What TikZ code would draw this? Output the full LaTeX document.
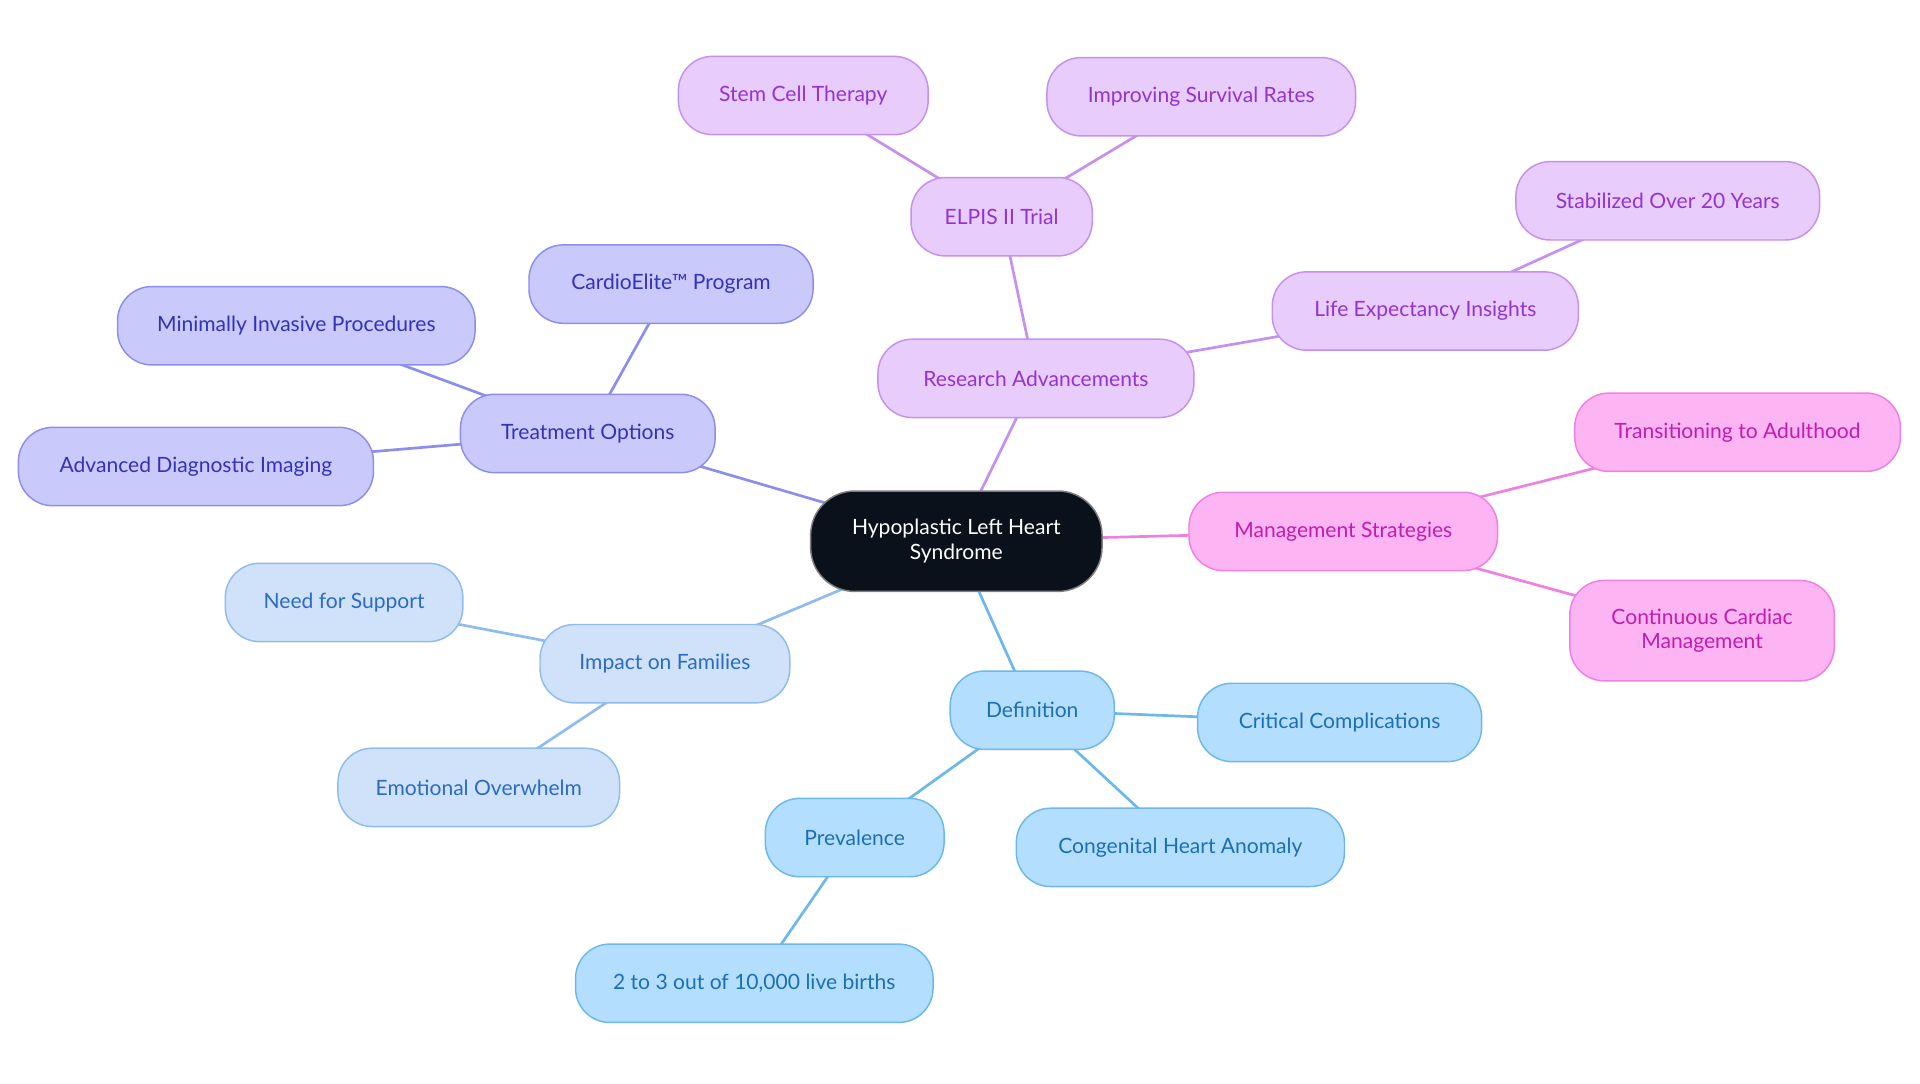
\documentclass[tikz,border=0pt]{standalone}
\usepackage{fontspec}
\setmainfont{Lato}
\usetikzlibrary{backgrounds}
\begin{document}
\begin{tikzpicture}[x=0.5pt,y=-0.5pt,
 base/.style={rounded corners=14pt,draw,line width=0.6pt,minimum height=32pt,align=center,font=\fontsize{8.6}{10}\selectfont,inner sep=0pt},
 lb/.style={base,fill=lb1,draw=lb2,text=lb3},
 sb/.style={base,fill=sb1,draw=sb2,text=sb3},
 ib/.style={base,fill=ib1,draw=ib2,text=ib3},
 pb/.style={base,fill=pb1,draw=pb2,text=pb3},
 kb/.style={base,fill=kb1,draw=kb2,text=kb3},
 e/.style={line width=1.1pt}]
\definecolor{lb1}{HTML}{CFE2FA}\definecolor{lb2}{HTML}{8FBCEE}\definecolor{lb3}{HTML}{2C6BC4}
\definecolor{sb1}{HTML}{B3DEFD}\definecolor{sb2}{HTML}{6CB8EC}\definecolor{sb3}{HTML}{1D6FB5}
\definecolor{ib1}{HTML}{C9C9FB}\definecolor{ib2}{HTML}{8D8DEB}\definecolor{ib3}{HTML}{3333B8}
\definecolor{pb1}{HTML}{E8CCFB}\definecolor{pb2}{HTML}{C690EE}\definecolor{pb3}{HTML}{9333D0}
\definecolor{kb1}{HTML}{FDB4F2}\definecolor{kb2}{HTML}{EE80E2}\definecolor{kb3}{HTML}{C21CB0}
\definecolor{rootc}{HTML}{0B111A}
\useasboundingbox (0,0) rectangle (1568,884.5);
\node[base,fill=rootc,draw=gray,text=white,minimum width=119pt,minimum height=41pt,rounded corners=18pt] (root) at (781,442) {Hypoplastic Left Heart\\Syndrome};
\node[lb,minimum width=102pt] (imp) at (543,542) {Impact on Families};
\node[lb,minimum width=97pt] (need) at (281,492) {Need for Support};
\node[lb,minimum width=115pt] (emo) at (391,643) {Emotional Overwhelm};
\node[sb,minimum width=67pt] (def) at (843,580) {Definition};
\node[sb,minimum width=116pt] (crit) at (1094,590) {Critical Complications};
\node[sb,minimum width=134pt] (cong) at (964,692) {Congenital Heart Anomaly};
\node[sb,minimum width=73pt] (prev) at (698,684) {Prevalence};
\node[sb,minimum width=146pt] (two) at (616,803) {2 to 3 out of 10,000 live births};
\node[ib,minimum width=104pt] (treat) at (480,354) {Treatment Options};
\node[ib,minimum width=116pt] (cardio) at (548,232) {CardioElite™ Program};
\node[ib,minimum width=146pt] (mini) at (242,266) {Minimally Invasive Procedures};
\node[ib,minimum width=145pt] (adv) at (160,381) {Advanced Diagnostic Imaging};
\node[pb,minimum width=129pt] (res) at (846,309) {Research Advancements};
\node[pb,minimum width=74pt] (elpis) at (818,177) {ELPIS II Trial};
\node[pb,minimum width=102pt] (stem) at (656,78) {Stem Cell Therapy};
\node[pb,minimum width=126pt] (impr) at (981,79) {Improving Survival Rates};
\node[pb,minimum width=125pt] (life) at (1164,254) {Life Expectancy Insights};
\node[pb,minimum width=124pt] (stab) at (1362,164) {Stabilized Over 20 Years};
\node[kb,minimum width=126pt] (man) at (1097,434) {Management Strategies};
\node[kb,minimum width=133pt] (trans) at (1419,353) {Transitioning to Adulthood};
\node[kb,minimum width=108pt,minimum height=41pt] (cont) at (1390,515) {Continuous Cardiac\\Management};
\begin{scope}[on background layer]
\draw[e,lb2] (root.center) -- (imp.center) (imp.center) -- (need.center) (imp.center) -- (emo.center);
\draw[e,sb2] (root.center) -- (def.center) (def.center) -- (crit.center) (def.center) -- (cong.center) (def.center) -- (prev.center) (prev.center) -- (two.center);
\draw[e,ib2] (root.center) -- (treat.center) (treat.center) -- (cardio.center) (treat.center) -- (mini.center) (treat.center) -- (adv.center);
\draw[e,pb2] (root.center) -- (res.center) (res.center) -- (elpis.center) (elpis.center) -- (stem.center) (elpis.center) -- (impr.center) (res.center) -- (life.center) (life.center) -- (stab.center);
\draw[e,kb2] (root.center) -- (man.center) (man.center) -- (trans.center) (man.center) -- (cont.center);
\end{scope}
\end{tikzpicture}
\end{document}
